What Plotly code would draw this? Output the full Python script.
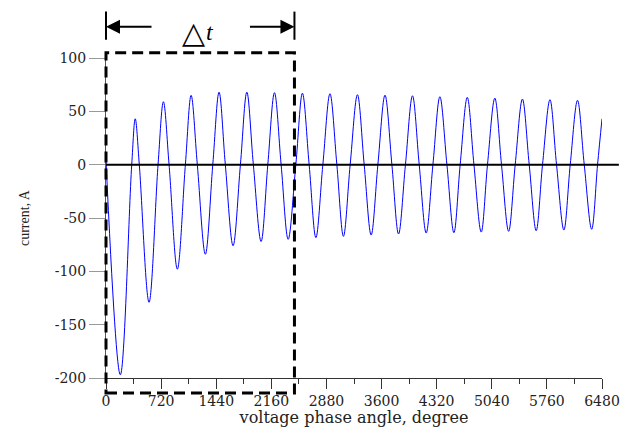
import plotly.graph_objects as go

# Extrema and zero crossings of the current trace
angle_deg = [0, 187, 336, 382, 435, 562, 680, 750, 824, 932, 1037, 1112, 1193,
             1298, 1395, 1477, 1559, 1660, 1756, 1840, 1925, 2026, 2114, 2201, 2288,
             2380, 2480, 2566, 2654, 2742, 2833, 2926, 3016, 3102, 3190, 3285, 3373,
             3464, 3552, 3645, 3735, 3822, 3912, 4004, 4092, 4183, 4271, 4362, 4454,
             4545, 4627, 4720, 4807, 4902, 4984, 5080, 5167, 5260, 5346, 5440, 5529,
             5620, 5703, 5800, 5886, 5982, 6065, 6160, 6248, 6345, 6422, 6480]
current_a = [4, -197, 0, 43, 0, -129, 0, 59, 0, -98, 0, 65, 0,
             -84, 0, 68, 0, -76, 0, 68, 0, -72, 0, 67.5, 0,
             -70, 0, 67, 0, -68.4, 0, 66.5, 0, -67.2, 0, 65.6, 0,
             -66, 0, 65.2, 0, -65, 0, 64.6, 0, -64.1, 0, 63.7, 0,
             -63.8, 0, 63.1, 0, -63.2, 0, 62.4, 0, -62.5, 0, 61.5, 0,
             -61.9, 0, 60.9, 0, -61.3, 0, 60.3, 0, -60.6, 0, 43]

x_ticks = [0, 720, 1440, 2160, 2880, 3600, 4320, 5040, 5760, 6480]
y_ticks = [-200, -150, -100, -50, 0, 50, 100]
y_tick_labels = ["-200", "-150", "-100", "-50", "0", "50", "100"]
x_range = [0, 6480]
y_range = [-200, 100]
dt_start, dt_end = 0, 2462       # Δt window (degrees)
box_top, box_bottom = 105, -214  # dashed box vertical extent (A)

serif = "Liberation Serif"
wide_serif = "DejaVu Serif"

def px_x(v):
    return (v - x_range[0]) / (x_range[1] - x_range[0])

def px_y(v):
    return (v - y_range[0]) / (y_range[1] - y_range[0])

fig = go.Figure()
fig.add_trace(go.Scatter(
    x=angle_deg, y=current_a, mode="lines",
    line=dict(color="#0000ff", width=1, shape="spline", smoothing=1.0),
    showlegend=False, hoverinfo="skip"))

fig.update_layout(
    width=625, height=427,
    margin=dict(l=106, r=23, t=58, b=49, autoexpand=False),
    plot_bgcolor="white", paper_bgcolor="white",
    font=dict(family=serif, size=15, color="#222"),
    xaxis=dict(range=x_range, tickvals=x_ticks, showgrid=False, zeroline=False,
               automargin=False,
               showline=True, linecolor="#333", linewidth=1,
               ticks="outside", ticklen=10, tickcolor="#333", tickwidth=1,
               minor=dict(ticks="outside", ticklen=5, dtick=360, tick0=0,
                          tickcolor="#333", tickwidth=1),
               tickfont=dict(family=wide_serif, size=14, color="#222"),
               title=dict(text="voltage phase angle, degree", standoff=3,
                          font=dict(family=wide_serif, size=16, color="#222"))),
    yaxis=dict(range=y_range, tickvals=y_ticks, ticktext=y_tick_labels,
               showgrid=False, zeroline=False, automargin=False,
               showline=True, linecolor="#555", linewidth=1,
               ticks="outside", ticklen=16, tickcolor="#999", tickwidth=1,
               tickfont=dict(family=wide_serif, size=14, color="#222"),
               title=dict(text="current, A", standoff=21,
                          font=dict(family=serif, size=14, color="#222"))),
)

# zero line extending past the right end of the axis
fig.add_shape(type="line", xref="paper", yref="paper",
              x0=px_x(0), x1=1.034, y0=px_y(0), y1=px_y(0),
              line=dict(color="black", width=2))

# dashed Δt box
fig.add_shape(type="rect", xref="paper", yref="paper",
              x0=px_x(dt_start), x1=px_x(dt_end),
              y0=px_y(box_bottom), y1=px_y(box_top),
              line=dict(color="black", width=3, dash="11px,6px"))

# vertical end bars of the Δt dimension
for xv in (dt_start, dt_end):
    fig.add_shape(type="line", xref="paper", yref="paper",
                  x0=px_x(xv), x1=px_x(xv), y0=1.057, y1=1.145,
                  line=dict(color="black", width=2))

arrow_y = 1.098
fig.add_annotation(x=px_x(dt_start), y=arrow_y, xref="paper", yref="paper",
                   text="", showarrow=True, ax=47, ay=0, axref="pixel", ayref="pixel",
                   arrowhead=2, arrowsize=1.4, arrowwidth=2, arrowcolor="black", standoff=0)
fig.add_annotation(x=px_x(dt_end), y=arrow_y, xref="paper", yref="paper",
                   text="", showarrow=True, ax=-46, ay=0, axref="pixel", ayref="pixel",
                   arrowhead=2, arrowsize=1.4, arrowwidth=2, arrowcolor="black", standoff=0)
fig.add_annotation(x=0.1755, y=1.080, xref="paper", yref="paper",
                   xanchor="center", yanchor="middle",
                   text="△", showarrow=False,
                   font=dict(family="DejaVu Sans", size=30, color="black"))
fig.add_annotation(x=0.2098, y=1.080, xref="paper", yref="paper",
                   xanchor="center", yanchor="middle",
                   text="<i>t</i>", showarrow=False,
                   font=dict(family=serif, size=24, color="black"))

fig.write_html("out.html",
               config={"displayModeBar": False},
               post_script="document.body.style.margin='0';"
                           "document.body.style.overflow='hidden';")
